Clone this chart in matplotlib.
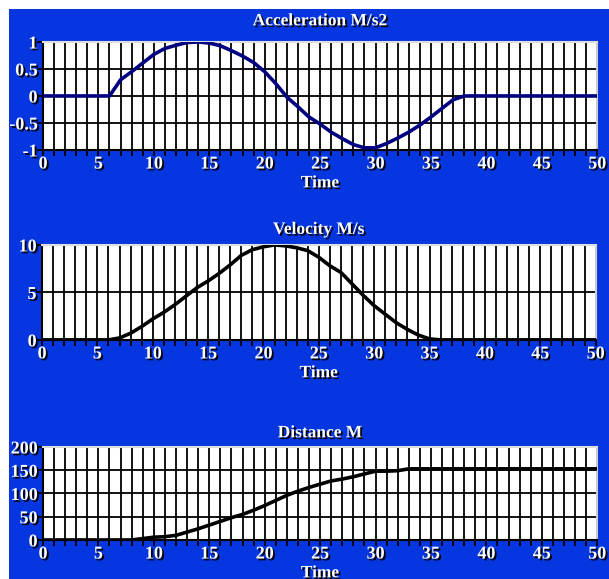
import numpy as np
import matplotlib.pyplot as plt
import matplotlib.patheffects as pe
from matplotlib.patches import Rectangle

time = np.arange(0, 51)

accel = [0, 0, 0, 0, 0, 0, 0, 0.3, 0.45, 0.61, 0.77, 0.88, 0.94, 0.99, 1.0,
         0.98, 0.93, 0.84, 0.74, 0.62, 0.45, 0.23, -0.02, -0.2, -0.39,
         -0.52, -0.67, -0.79, -0.9, -0.96, -0.96, -0.88, -0.78, -0.67, -0.54,
         -0.39, -0.23, -0.07, 0, 0, 0, 0, 0, 0, 0, 0, 0, 0, 0, 0, 0]

velocity = [0, 0, 0, 0, 0, 0, 0, 0.2, 0.7, 1.4, 2.2, 2.9, 3.7, 4.6, 5.5,
            6.2, 7.0, 7.9, 8.9, 9.5, 9.8, 10.0, 9.9, 9.7, 9.4, 8.7, 7.8,
            7.1, 5.9, 4.7, 3.6, 2.7, 1.8, 1.1, 0.5, 0.1, 0, 0, 0, 0, 0, 0,
            0, 0, 0, 0, 0, 0, 0, 0, 0]

distance = [0, 0, 0, 0, 0, 0, 0, 0, 0, 3, 6, 7, 10, 17, 24, 32, 40, 48,
            55, 64, 74, 85, 96, 105, 113, 120, 127, 131, 136, 142, 148,
            148, 149, 153, 153, 153, 153, 153, 153, 153, 153, 153, 153,
            153, 153, 153, 153, 153, 153, 153, 153]

titles = ['Acceleration M/s2', 'Velocity M/s', 'Distance M']
ylims = [(-1, 1), (0, 10), (0, 200)]
yticks = [[-1, -0.5, 0, 0.5, 1], [0, 5, 10], [0, 50, 100, 150, 200]]
ytick_labels = [['-1', '-0.5', '0', '0.5', '1'], ['0', '5', '10'],
                ['0', '50', '100', '150', '200']]
line_colors = ['#000080', 'black', 'black']
title_pads = [12, 8, 7]

blue = '#0536e0'
shadow = [pe.SimplePatchShadow(offset=(1.3, -1.3), shadow_rgbFace='black', alpha=1.0),
          pe.Normal()]
font = {'family': 'Liberation Serif', 'weight': 'bold', 'size': 13}
tfont = {'family': 'Liberation Serif', 'weight': 'bold', 'size': 12.5}

fig = plt.figure(figsize=(6.09, 5.79), dpi=100, facecolor='white')
fig.patches.append(Rectangle((9 / 609, 0), 1, 1 - 9 / 579, transform=fig.transFigure,
                             facecolor=blue, edgecolor='none', zorder=-10))

# [left, bottom, width, height] of each panel
boxes = [[0.0706, 0.741, 0.910, 0.1865],
         [0.069, 0.413, 0.909, 0.164],
         [0.0706, 0.0674, 0.910, 0.1606]]
series = [accel, velocity, distance]

for i in range(3):
    ax = fig.add_axes(boxes[i])
    ax.set_facecolor('white')
    ax.plot(time, series[i], color=line_colors[i], lw=2.6, zorder=5,
            solid_joinstyle='round')
    ax.set_xlim(0, 50)
    ax.set_ylim(*ylims[i])

    ax.set_xticks(np.arange(0, 51, 5))
    ax.set_xticks(np.arange(0, 51, 1), minor=True)
    ax.set_yticks(yticks[i])
    ax.set_yticklabels(ytick_labels[i])
    ax.grid(True, which='both', axis='x', color='black', lw=1.3)
    ax.grid(True, which='major', axis='y', color='black', lw=1.3)

    ax.tick_params(axis='both', which='both', direction='out', color='black',
                   width=1.3, length=4, pad=0)
    for lab in ax.get_xticklabels() + ax.get_yticklabels():
        lab.set_color('white')
        lab.set_fontproperties(font)
        lab.set_path_effects(shadow)

    ax.spines['left'].set_color('black')
    ax.spines['left'].set_linewidth(1.5)
    ax.spines['bottom'].set_color('black')
    ax.spines['bottom'].set_linewidth(1.5)
    ax.spines['top'].set_color('#dddddd')
    ax.spines['top'].set_linewidth(1.5)
    ax.spines['right'].set_color('#cccccc')
    ax.spines['right'].set_linewidth(1.5)

    ax.set_title(titles[i], color='white', fontdict=tfont, pad=title_pads[i],
                 path_effects=shadow)
    ax.set_xlabel('Time', color='white', fontdict=tfont, labelpad=2,
                  path_effects=shadow)

fig.savefig('out.png', dpi=100, facecolor='white')
